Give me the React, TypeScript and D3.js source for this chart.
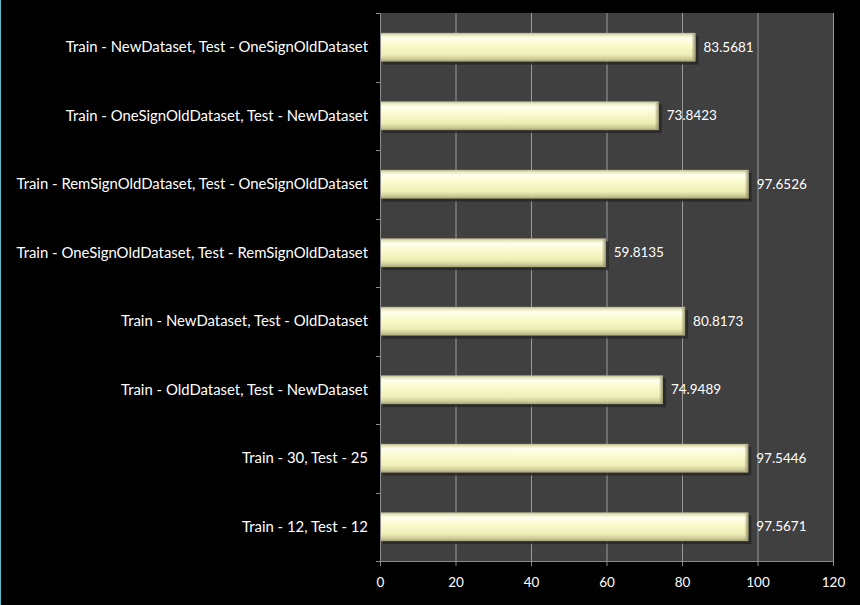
import * as d3 from "d3";
import { useRef, useEffect } from "react";

const categories = [
  "Train - NewDataset, Test - OneSignOldDataset",
  "Train - OneSignOldDataset, Test - NewDataset",
  "Train - RemSignOldDataset, Test - OneSignOldDataset",
  "Train - OneSignOldDataset, Test - RemSignOldDataset",
  "Train - NewDataset, Test - OldDataset",
  "Train - OldDataset, Test - NewDataset",
  "Train - 30, Test - 25",
  "Train - 12, Test - 12",
];
const values = [83.5681, 73.8423, 97.6526, 59.8135, 80.8173, 74.9489, 97.5446, 97.5671];
const xTicks = [0, 20, 40, 60, 80, 100, 120];

export default function App() {
  const svgRef = useRef<SVGSVGElement | null>(null);

  useEffect(() => {
    if (!svgRef.current) return;
    const width = 860, height = 605;
    const margin = { top: 13, right: 27, bottom: 44, left: 380 };

    const svg = d3.select(svgRef.current);
    svg.selectAll("*").remove();
    svg.attr("width", width).attr("height", height)
      .style("position", "absolute").style("left", 0).style("top", 0)
      .style("font-family", "Lato, 'DejaVu Sans', sans-serif");

    svg.append("rect").attr("width", width).attr("height", height).attr("fill", "#000");
    svg.append("rect").attr("x", 0).attr("y", 0).attr("width", 1).attr("height", height).attr("fill", "#5fb8c8");

    const x = d3.scaleLinear().domain([0, 120]).range([margin.left, width - margin.right]);
    const y = d3.scaleBand().domain(categories).range([margin.top, height - margin.bottom]).paddingInner(0.58).paddingOuter(0.29);
    const yOuter = d3.scaleBand().domain(categories).range([margin.top, height - margin.bottom]);

    const defs = svg.append("defs");
    const grad = defs.append("linearGradient").attr("id", "barGrad").attr("x1", 0).attr("y1", 0).attr("x2", 0).attr("y2", 1);
    [
      [0, "#b9b78f"], [0.08, "#e9e8c0"], [0.18, "#ffffef"], [0.4, "#fbfbcf"],
      [0.75, "#eeeeb6"], [0.9, "#cfcd98"], [1, "#a5a378"],
    ].forEach(([o, c]) => grad.append("stop").attr("offset", o as number).attr("stop-color", c as string));
    const side = defs.append("linearGradient").attr("id", "sideGrad").attr("x1", 0).attr("y1", 0).attr("x2", 1).attr("y2", 0);
    side.append("stop").attr("offset", 0).attr("stop-color", "#8e8c66").attr("stop-opacity", 0);
    side.append("stop").attr("offset", 1).attr("stop-color", "#8e8c66").attr("stop-opacity", 0.9);

    // plot area
    svg.append("rect")
      .attr("x", margin.left).attr("y", margin.top)
      .attr("width", x(120) - x(0)).attr("height", height - margin.bottom - margin.top)
      .attr("fill", "#404040");

    // gridlines
    svg.append("g").selectAll("line").data(xTicks.slice(1)).join("line")
      .attr("x1", d => x(d) + 0.5).attr("x2", d => x(d) + 0.5)
      .attr("y1", margin.top).attr("y2", height - margin.bottom)
      .attr("stroke", "#9a9a9a").attr("stroke-width", 1);

    // axes
    const axisColor = "#8c8c8c";
    svg.append("line").attr("x1", x(0) + 0.5).attr("x2", x(0) + 0.5)
      .attr("y1", margin.top).attr("y2", height - margin.bottom + 5).attr("stroke", axisColor);
    svg.append("line").attr("x1", x(0) - 4).attr("x2", x(120) + 0.5)
      .attr("y1", height - margin.bottom + 0.5).attr("y2", height - margin.bottom + 0.5).attr("stroke", axisColor);
    // category ticks
    const boundaries = categories.map(c => yOuter(c)!);
    svg.append("g").selectAll("line").data(boundaries).join("line")
      .attr("x1", x(0) - 4).attr("x2", x(0))
      .attr("y1", d => Math.round(d) + 0.5).attr("y2", d => Math.round(d) + 0.5)
      .attr("stroke", axisColor);
    svg.append("g").selectAll("line").data(xTicks).join("line")
      .attr("x1", d => x(d) + 0.5).attr("x2", d => x(d) + 0.5)
      .attr("y1", height - margin.bottom).attr("y2", height - margin.bottom + 5)
      .attr("stroke", axisColor);

    svg.append("g").selectAll("text").data(xTicks).join("text")
      .attr("x", d => x(d) + 0.5).attr("y", height - margin.bottom + 26)
      .attr("text-anchor", "middle").attr("fill", "#fff").attr("font-size", 13.5)
      .text(d => d);

    // category labels
    svg.append("g").selectAll("text").data(categories).join("text")
      .attr("x", x(0) - 12).attr("y", d => y(d)! + y.bandwidth() / 2)
      .attr("dy", "0.35em").attr("text-anchor", "end").attr("fill", "#fff").attr("font-size", 14.9)
      .text(d => d);

    // bars
    const bars = svg.append("g").selectAll("g").data(categories).join("g");
    bars.append("rect")
      .attr("x", x(0) + 3).attr("y", d => y(d)! + 3)
      .attr("width", (d, i) => x(values[i]) - x(0))
      .attr("height", y.bandwidth())
      .attr("fill", "#262626").attr("opacity", 0.8);
    bars.append("rect")
      .attr("x", x(0) + 1).attr("y", d => y(d)!)
      .attr("width", (d, i) => x(values[i]) - x(0) - 1)
      .attr("height", y.bandwidth())
      .attr("fill", "url(#barGrad)");
    bars.append("rect")
      .attr("x", (d, i) => x(values[i]) - 4).attr("y", d => y(d)! + 1)
      .attr("width", 4).attr("height", y.bandwidth() - 2)
      .attr("fill", "url(#sideGrad)");

    // value labels
    svg.append("g").selectAll("text").data(categories).join("text")
      .attr("x", (d, i) => x(values[i]) + 8).attr("y", d => y(d)! + y.bandwidth() / 2)
      .attr("dy", "0.35em").attr("fill", "#fff").attr("font-size", 13.5)
      .text((d, i) => values[i].toFixed(4));
  }, []);

  return <svg ref={svgRef}></svg>;
}
